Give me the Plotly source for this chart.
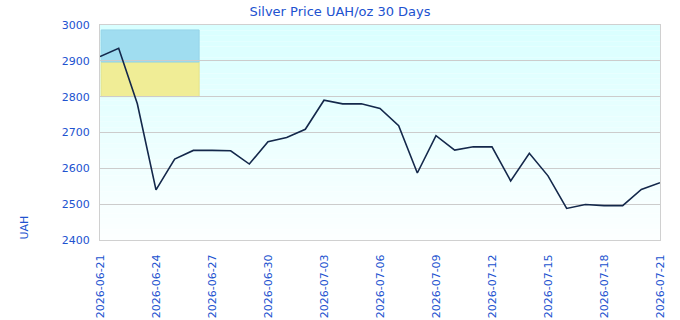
import plotly.graph_objects as go
import pandas as pd

start_date = "2026-06-21"
prices = [2912, 2935, 2780, 2540, 2626, 2650, 2650, 2649, 2612, 2674, 2686,
          2709, 2790, 2780, 2780, 2767, 2719, 2587, 2691, 2651, 2660, 2660,
          2565, 2642, 2579, 2488, 2499, 2496, 2496, 2541, 2560]
dates = pd.date_range(start_date, periods=len(prices), freq="D")
tick_dates = dates[::3]
tick_labels = [d.strftime("%Y-%m-%d") for d in tick_dates]

blue = "#2152cf"
font = "DejaVu Sans"

fig = go.Figure()
fig.add_trace(go.Scatter(x=dates, y=prices, mode="lines",
                         line=dict(color="#14284b", width=1.6),
                         hoverinfo="skip", showlegend=False))

shapes = []
# gradient background stripes
n = 40
top = (217, 255, 255)
bot = (252, 255, 255)
for i in range(n):
    t = i / (n - 1)
    c = tuple(round(top[k] + (bot[k] - top[k]) * t) for k in range(3))
    shapes.append(dict(type="rect", xref="x domain", yref="y domain",
                       x0=0, x1=1, y0=1 - (i + 1) / n, y1=1 - i / n,
                       fillcolor="rgb(%d,%d,%d)" % c, line=dict(width=0),
                       layer="below"))
# flag
shapes.append(dict(type="rect", xref="x domain", yref="y domain",
                   x0=0.002, x1=0.177, y0=0.667, y1=0.828,
                   fillcolor="#f0ed96", line=dict(color="#e4e28a", width=1),
                   layer="below"))
shapes.append(dict(type="rect", xref="x domain", yref="y domain",
                   x0=0.002, x1=0.177, y0=0.828, y1=0.977,
                   fillcolor="#a0ddf0", line=dict(color="#96d4e8", width=1),
                   layer="below"))

fig.update_layout(
    width=680, height=320,
    margin=dict(l=100, r=20, t=25, b=80),
    paper_bgcolor="white", plot_bgcolor="white",
    shapes=shapes,
    title=dict(text="Silver Price UAH/oz 30 Days", x=0.5, xanchor="center",
               y=0.963, yanchor="middle",
               font=dict(family=font, size=13, color=blue)),
    font=dict(family=font, size=11, color=blue),
    xaxis=dict(range=[dates[0], dates[-1]], tickvals=tick_dates,
               ticktext=tick_labels, tickangle=-90, showgrid=False,
               showline=True, linecolor="#d0d0d0", linewidth=1, mirror=True,
               ticks="", ticklabelstandoff=9, automargin=False,
               tickfont=dict(family=font, size=11, color=blue),
               zeroline=False),
    yaxis=dict(range=[2400, 3000], dtick=100, showgrid=True,
               gridcolor="#cccccc", gridwidth=1, showline=True,
               linecolor="#d0d0d0", linewidth=1, mirror=True, ticks="",
               ticklabelstandoff=7, automargin=False,
               tickfont=dict(family=font, size=11, color=blue),
               zeroline=False),
    annotations=[dict(text="UAH", xref="paper", yref="paper",
                      x=-0.135, y=0.06, xanchor="center", yanchor="middle",
                      textangle=-90, showarrow=False,
                      font=dict(family=font, size=11, color=blue))],
)

fig.write_html("out.html")
